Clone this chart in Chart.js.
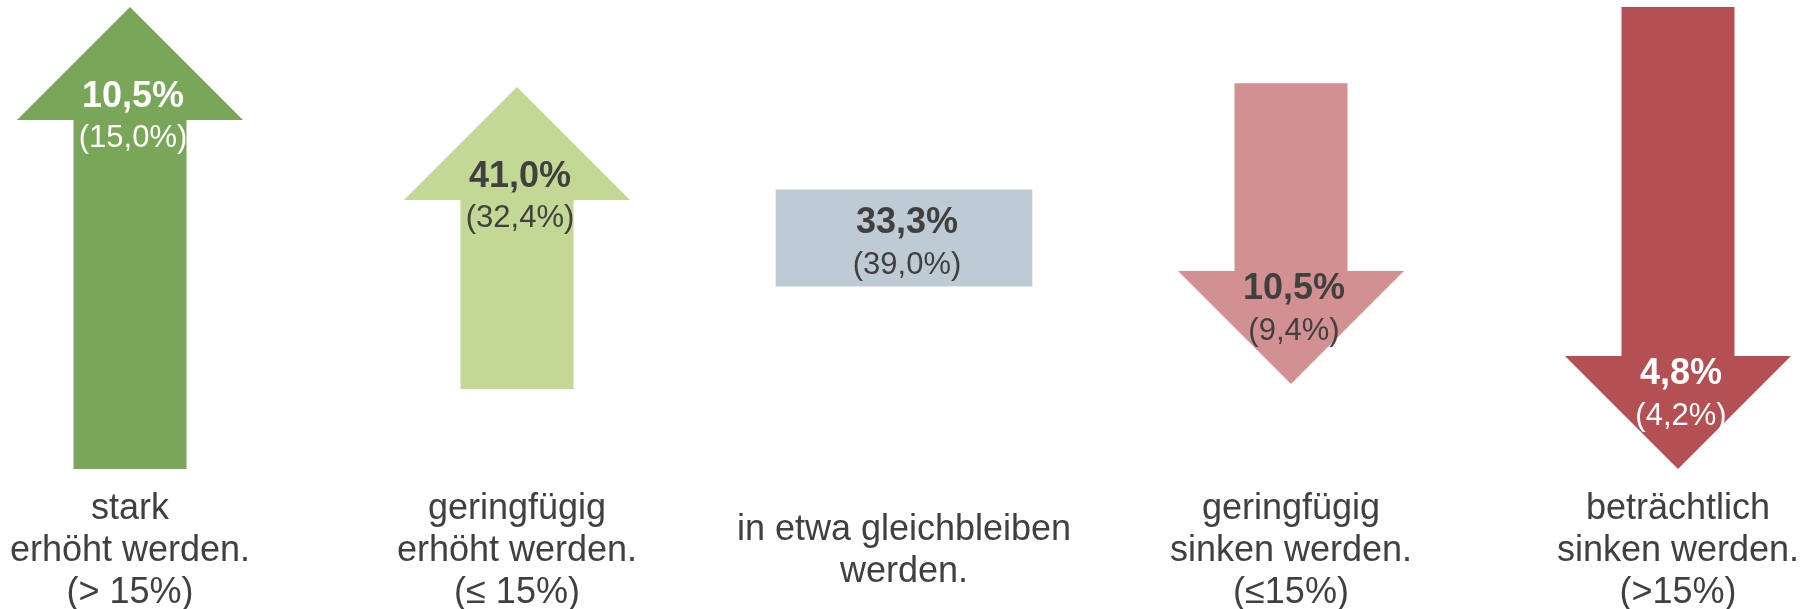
<!DOCTYPE html>
<html>
<head>
<meta charset="utf-8">
<script src="https://cdn.jsdelivr.net/npm/chart.js@4.4.1/dist/chart.umd.min.js"></script>
<style>
html,body{margin:0;padding:0;background:#ffffff;overflow:hidden;}
#wrap{width:1820px;height:609px;position:relative;}
</style>
</head>
<body>
<div id="wrap"><canvas id="c" width="1820" height="609"></canvas></div>
<script>
// ---- data ----
const categories = [
  ['stark', 'erhöht werden.', '(> 15%)'],
  ['geringfügig', 'erhöht werden.', '(≤ 15%)'],
  ['in etwa gleichbleiben', 'werden.'],
  ['geringfügig', 'sinken werden.', '(≤15%)'],
  ['beträchtlich', 'sinken werden.', '(>15%)']
];
const shares = [10.5, 41.0, 33.3, 10.5, 4.8];
const previousShares = [15.0, 32.4, 39.0, 9.4, 4.2];
// arrow extents (tail -> tip) on an abstract 0..100 scale; null = no arrow
const arrowTail = [0, 17.3, null, 83.5, 100];
const arrowTip = [100, 82.7, null, 18.4, 0];
// "unchanged" box extent
const boxFrom = [null, null, 39.6, null, null];
const boxTo = [null, null, 60.4, null, null];

// ---- styles ----
const colors = ['#7AA65A', '#C2D894', '#BFCBD4', '#D39092', '#B45054'];
const valueTextColors = ['#FFFFFF', '#404040', '#404040', '#404040', '#FFFFFF'];
const FONT = '"Liberation Sans", Arial, Helvetica, sans-serif';
const TEXT = '#404040';

const fmt = v => v.toFixed(1).replace('.', ',') + '%';

const arrowPlugin = {
  id: 'arrows',
  afterDatasetsDraw(chart) {
    const ctx = chart.ctx;
    const ys = chart.scales.y;
    const arrowMeta = chart.getDatasetMeta(0);
    const boxMeta = chart.getDatasetMeta(1);
    ctx.save();
    const anchors = [];
    arrowTail.forEach((t, i) => {
      if (t === null) return;
      const el = arrowMeta.data[i];
      const w = el.width, x = el.x;
      const tail = ys.getPixelForValue(arrowTail[i]);
      const tip = ys.getPixelForValue(arrowTip[i]);
      const dir = tail > tip ? 1 : -1; // 1 = pointing up
      const headBase = tip + dir * w;
      ctx.beginPath();
      ctx.moveTo(x - w / 2, tail);
      ctx.lineTo(x - w / 2, headBase);
      ctx.lineTo(x - w, headBase);
      ctx.lineTo(x, tip);
      ctx.lineTo(x + w, headBase);
      ctx.lineTo(x + w / 2, headBase);
      ctx.lineTo(x + w / 2, tail);
      ctx.closePath();
      ctx.fillStyle = colors[i];
      ctx.fill();
      anchors[i] = {x: x, y: dir > 0 ? tip + 0.794 * w : tip - 0.84 * w};
    });
    boxFrom.forEach((b, i) => {
      if (b === null) return;
      const el = boxMeta.data[i];
      anchors[i] = {x: el.x, y: (el.y + el.base) / 2 - 15};
    });
    ctx.textAlign = 'center';
    ctx.textBaseline = 'middle';
    anchors.forEach((a, i) => {
      if (!a) return;
      ctx.fillStyle = valueTextColors[i];
      ctx.font = 'bold 36px ' + FONT;
      ctx.fillText(fmt(shares[i]), a.x + 3, a.y);
      ctx.font = '31px ' + FONT;
      ctx.fillText('(' + fmt(previousShares[i]) + ')', a.x + 3, a.y + 42);
    });
    ctx.restore();
  }
};

new Chart(document.getElementById('c').getContext('2d'), {
  type: 'bar',
  data: {
    labels: categories,
    datasets: [
      {
        label: 'Pfeile',
        data: categories.map((c, i) => arrowTail[i] === null ? null : [arrowTail[i], arrowTip[i]]),
        backgroundColor: 'rgba(0,0,0,0)',
        barThickness: 113,
        grouped: false,
        clip: false
      },
      {
        label: 'gleichbleibend',
        data: categories.map((c, i) => boxFrom[i] === null ? null : [boxFrom[i], boxTo[i]]),
        backgroundColor: colors,
        barThickness: 256,
        grouped: false,
        clip: false
      }
    ]
  },
  options: {
    responsive: false,
    animation: false,
    layout: {padding: {left: 130, right: 142, top: 7, bottom: 0}},
    plugins: {legend: {display: false}, tooltip: {enabled: false}},
    scales: {
      x: {
        offset: false,
        grid: {display: false, drawTicks: false},
        border: {display: false},
        afterFit: (scale) => {
          scale.height = 140;
          scale.paddingLeft = 0;
          scale.paddingRight = 0;
        },
        ticks: {
          padding: 40,
          color: TEXT,
          autoSkip: false,
          maxRotation: 0,
          minRotation: 0,
          crossAlign: 'center',
          font: {family: FONT, size: 36, lineHeight: 1.1667}
        }
      },
      y: {display: false, min: 0, max: 100}
    }
  },
  plugins: [arrowPlugin]
});
</script>
</body>
</html>
